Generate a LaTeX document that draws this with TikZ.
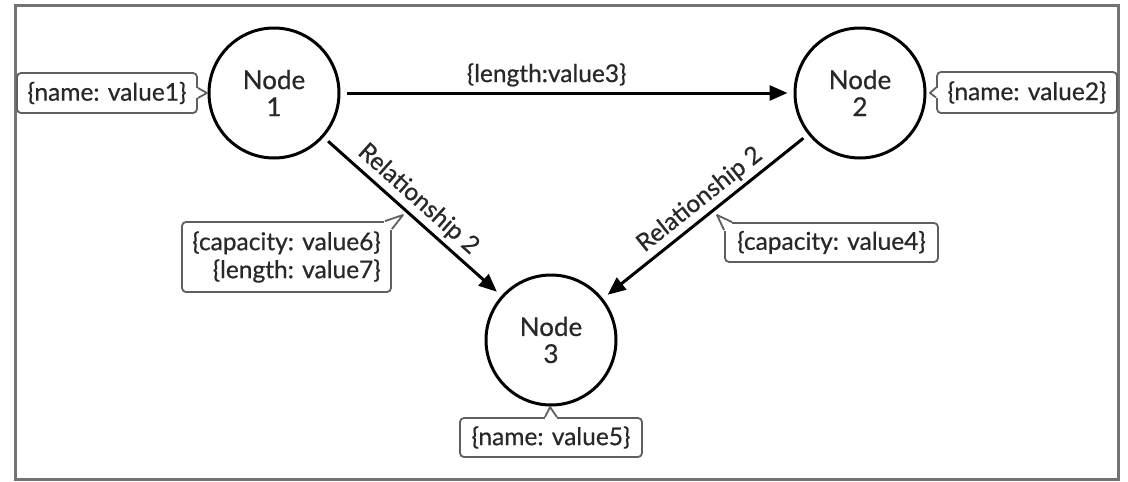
\documentclass[tikz,border=0pt]{standalone}
\usepackage{fontspec}
\setmainfont{Lato}[FakeBold=0.6]
\usetikzlibrary{arrows.meta,calc}
\definecolor{txtc}{RGB}{40,40,40}
\definecolor{coc}{RGB}{95,95,95}
\definecolor{framec}{RGB}{115,115,115}
\tikzset{
  txt/.style={font=\fontsize{24.5}{28}\selectfont, text=txtc},
  gnode/.style={circle, draw=black, line width=3pt, minimum size=130pt, inner sep=0pt, align=center, txt, font=\fontsize{26}{27}\selectfont},
  rel/.style={line width=3pt, -{Triangle[length=18pt,width=15pt]}, shorten >=6pt, shorten <=6pt},
  callout/.style={draw=coc, line width=1.8pt, rounded corners=4pt, inner sep=0pt, txt},
  coline/.style={draw=coc, line width=1.8pt, line join=round},
  lbl/.style={txt, inner sep=2pt},
  frame/.style={draw=framec, line width=3pt}
}
\begin{document}
\begin{tikzpicture}[x=1pt,y=-1pt]
\useasboundingbox (0,0) rectangle (1128,482);
\draw[frame] (15,5) rectangle (1118,479);

\node[gnode] (n1) at (274,93) {Node\\1};
\node[gnode] (n2) at (860,93) {Node\\2};
\node[gnode] (n3) at (551,340) {Node\\3};

\draw[rel] (n1) -- (n2) node[lbl, pos=0.455, above=3pt] {\{length:value3\}};
\draw[rel] (n1) -- (n3) node[lbl, pos=0.47, above=2pt, sloped] {Relationship 2};
\draw[rel] (n2) -- (n3) node[lbl, pos=0.477, above=2pt, sloped] {Relationship 2};

% callouts
\node[callout, minimum width=180pt, minimum height=40pt] (c1) at (107,93) {\{name: value1\}};
\node[callout, minimum width=180pt, minimum height=41pt] (c2) at (1027,92.5) {\{name: value2\}};
\node[callout, minimum width=209pt, minimum height=70pt, align=right] (c3) at (286.5,257) {\{capacity: value6\}\\\{length: value7\}};
\node[callout, minimum width=213pt, minimum height=39pt] (c4) at (831.5,242.5) {\{capacity: value4\}};
\node[callout, minimum width=182pt, minimum height=39pt] (c5) at (551,437.5) {\{name: value5\}};

\coordinate (t1) at (207,93);
\coordinate (t2) at (930,93);
\coordinate (t3) at (403,215);
\coordinate (t4) at (717,215);
\coordinate (t5) at (550,407);

\fill[white] ($(c1.east)+(-2,-5)$) rectangle ($(c1.east)+(2,5)$);
\draw[coline] ($(c1.east)+(0,-5)$) -- (t1) -- ($(c1.east)+(0,5)$);
\fill[white] ($(c2.west)+(-2,-5)$) rectangle ($(c2.west)+(2,5)$);
\draw[coline] ($(c2.west)+(0,-5)$) -- (t2) -- ($(c2.west)+(0,5)$);
\fill[white] ($(c5.north)+(-6,-2)$) rectangle ($(c5.north)+(6,2)$);
\draw[coline] ($(c5.north)+(-6,0)$) -- (t5) -- ($(c5.north)+(6,0)$);
\fill[white] ($(c3.north east)+(-8,-2)$) rectangle ($(c3.north east)+(2,9)$);
\draw[coline] ($(c3.north east)+(-7,0)$) -- (t3) -- ($(c3.north east)+(0,8)$);
\fill[white] ($(c4.north west)+(-2,-2)$) rectangle ($(c4.north west)+(8,9)$);
\draw[coline] ($(c4.north west)+(0,8)$) -- (t4) -- ($(c4.north west)+(8,0)$);
\end{tikzpicture}
\end{document}
